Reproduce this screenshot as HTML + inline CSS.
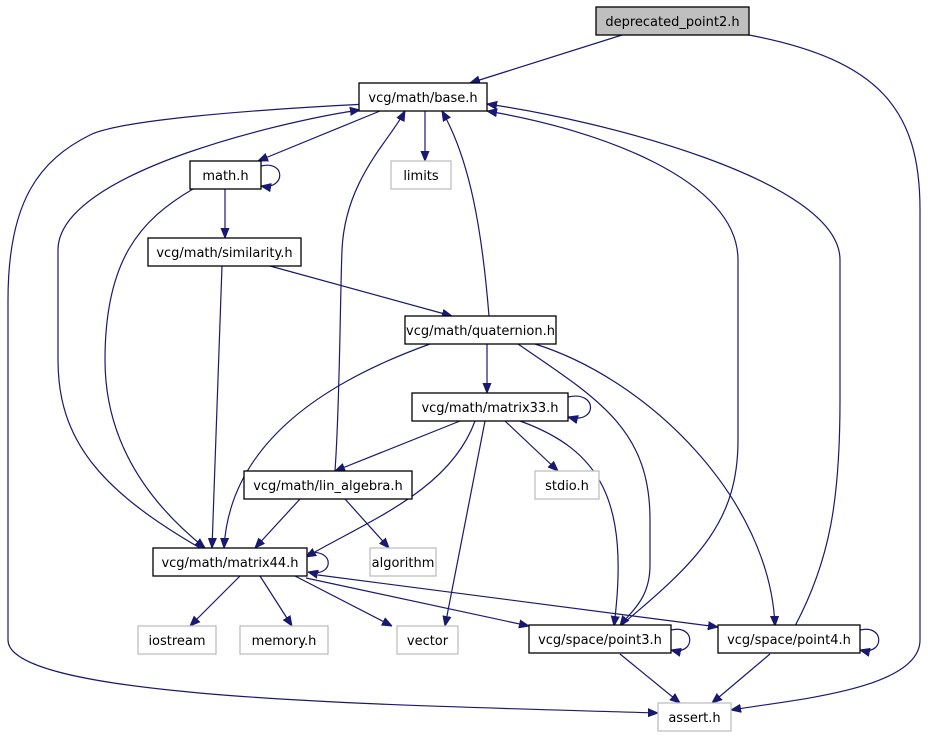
<!DOCTYPE html>
<html><head><meta charset="utf-8"><style>
html,body{margin:0;padding:0;background:#fff;}
svg{display:block;}
text{font-family:"DejaVu Sans","Liberation Sans",sans-serif;font-size:13px;fill:#000;}
.e{fill:none;stroke:#191970;stroke-width:1.2;}
.n{fill:#fff;stroke:#000;stroke-width:1.3;}
.g{fill:#fff;stroke:#bfbfbf;stroke-width:1.3;}
</style></head><body>
<svg width="928" height="736" viewBox="0 0 928 736" xmlns="http://www.w3.org/2000/svg">
<defs><marker id="a" viewBox="0 0 10 10" refX="10" refY="5" markerWidth="10" markerHeight="10" markerUnits="userSpaceOnUse" orient="auto"><path d="M0,1 L10,5 L0,9 z" fill="#191970" stroke="#191970"/></marker></defs>
<g marker-end="url(#a)">
<path class="e" d="M622,35 L470,83"/>
<path class="e" d="M749,35 C880,60 920,110 920,210 L920,640 C920,690 790,700 731,710"/>
<path class="e" d="M380,111 L258,161"/>
<path class="e" d="M425,111 L425,161"/>
<path class="e" d="M261,166 C286,160 286,190 261,186"/>
<path class="e" d="M225,189 L225,238"/>
<path class="e" d="M193,189 C140,220 105,260 105,360 C105,460 170,520 205,548"/>
<path class="e" d="M270,266 L452,316"/>
<path class="e" d="M222,266 L212,548"/>
<path class="e" d="M489,316 C482,230 470,160 442,111"/>
<path class="e" d="M487,344 L487,393"/>
<path class="e" d="M430,344 C330,380 230,440 224,548"/>
<path class="e" d="M518,344 C600,400 650,430 650,520 L650,565 C650,600 630,612 620,626"/>
<path class="e" d="M535,344 C650,380 770,500 775,626"/>
<path class="e" d="M568,397 C598,390 598,425 568,417"/>
<path class="e" d="M460,421 L335,471"/>
<path class="e" d="M505,421 L558,471"/>
<path class="e" d="M475,421 C450,490 370,520 306,557"/>
<path class="e" d="M485,421 L445,626"/>
<path class="e" d="M520,421 C600,450 630,500 614,626"/>
<path class="e" d="M335,471 C340,400 340,300 342,250 C345,180 390,140 405,111"/>
<path class="e" d="M345,499 L389,548"/>
<path class="e" d="M300,499 L255,548"/>
<path class="e" d="M308,553 C335,548 335,578 308,572"/>
<path class="e" d="M200,548 C100,490 58,440 58,360 L58,250 C58,170 300,118 360,110"/>
<path class="e" d="M366,104 C250,110 120,120 90,135 C40,160 8,200 8,300 L8,640 C8,700 400,705 658,713"/>
<path class="e" d="M240,576 L190,626"/>
<path class="e" d="M260,576 L292,626"/>
<path class="e" d="M295,576 L392,626"/>
<path class="e" d="M306,578 L529,626"/>
<path class="e" d="M318,575 L718,627"/>
<path class="e" d="M671,630 C696,624 696,656 671,650"/>
<path class="e" d="M860,630 C885,624 885,656 860,650"/>
<path class="e" d="M620,654 L680,703"/>
<path class="e" d="M770,654 L712,703"/>
<path class="e" d="M620,626 C700,560 738,520 738,440 L738,260 C738,180 600,130 487,111"/>
<path class="e" d="M795,626 C830,560 840,500 840,400 L840,260 C840,180 600,120 487,104"/>
</g>
<rect x="596" y="7" width="153" height="28" fill="#bfbfbf" stroke="#000" stroke-width="1.3"/><text x="672.5" y="26" text-anchor="middle">deprecated_point2.h</text>
<rect class="n" x="359" y="83" width="128" height="28"/><text x="423" y="102" text-anchor="middle">vcg/math/base.h</text>
<rect class="n" x="190" y="161" width="71" height="28"/><text x="225.5" y="180" text-anchor="middle">math.h</text>
<rect class="g" x="391" y="161" width="60" height="28"/><text x="421" y="180" text-anchor="middle">limits</text>
<rect class="n" x="148" y="238" width="153" height="28"/><text x="224.5" y="257" text-anchor="middle">vcg/math/similarity.h</text>
<rect class="n" x="405" y="316" width="151" height="28"/><text x="480.5" y="335" text-anchor="middle">vcg/math/quaternion.h</text>
<rect class="n" x="412" y="393" width="156" height="28"/><text x="490" y="412" text-anchor="middle">vcg/math/matrix33.h</text>
<rect class="g" x="535" y="471" width="64" height="28"/><text x="567" y="490" text-anchor="middle">stdio.h</text>
<rect class="n" x="244" y="471" width="168" height="28"/><text x="328" y="490" text-anchor="middle">vcg/math/lin_algebra.h</text>
<rect class="g" x="370" y="548" width="66" height="28"/><text x="403" y="567" text-anchor="middle">algorithm</text>
<rect class="n" x="153" y="548" width="154" height="28"/><text x="230" y="567" text-anchor="middle">vcg/math/matrix44.h</text>
<rect class="g" x="138" y="626" width="78" height="28"/><text x="177" y="645" text-anchor="middle">iostream</text>
<rect class="g" x="240" y="626" width="88" height="28"/><text x="284" y="645" text-anchor="middle">memory.h</text>
<rect class="g" x="397" y="626" width="61" height="28"/><text x="427.5" y="645" text-anchor="middle">vector</text>
<rect class="n" x="529" y="625" width="142" height="28"/><text x="600" y="644" text-anchor="middle">vcg/space/point3.h</text>
<rect class="n" x="718" y="625" width="142" height="28"/><text x="789" y="644" text-anchor="middle">vcg/space/point4.h</text>
<rect class="g" x="658" y="703" width="73" height="28"/><text x="694.5" y="722" text-anchor="middle">assert.h</text>
</svg>
</body></html>
